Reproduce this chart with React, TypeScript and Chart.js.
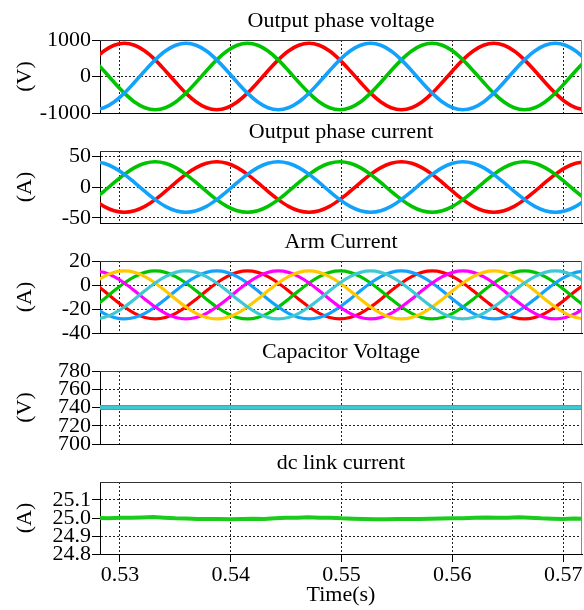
import { useEffect, useRef } from 'react';
import { Chart, registerables } from 'chart.js';

Chart.register(...registerables);

const FONT = "'Liberation Serif', 'Times New Roman', serif";
const X_MIN = 0.5282;
const X_MAX = 0.5717;
const xTicks = [0.53, 0.54, 0.55, 0.56, 0.57];

// sample instants (s)
const sampleTime = [
  0.52762, 0.52855, 0.52947, 0.5304, 0.53132, 0.53225, 0.53318, 0.5341, 0.53503, 0.53595,
  0.53688, 0.53781, 0.53873, 0.53966, 0.54058, 0.54151, 0.54244, 0.54336, 0.54429, 0.54521,
  0.54614, 0.54707, 0.54799, 0.54892, 0.54984, 0.55077, 0.5517, 0.55262, 0.55355, 0.55447,
  0.5554, 0.55633, 0.55725, 0.55818, 0.5591, 0.56003, 0.56095, 0.56188, 0.56281, 0.56373,
  0.56466, 0.56558, 0.56651, 0.56744, 0.56836, 0.56929, 0.57021, 0.57114, 0.57207,
];

// Output phase voltage (V)
const vRed = [
  455, 697, 855, 910, 855, 697, 455, 158, -158, -455, -697, -855, -910, -855, -697, -455, -158, 158,
  455, 697, 855, 910, 855, 697, 455, 158, -158, -455, -697, -855, -910, -855, -697, -455, -158, 158,
  455, 697, 855, 910, 855, 697, 455, 158, -158, -455, -697, -855, -910,
];
const vBlue = [
  -910, -855, -697, -455, -158, 158, 455, 697, 855, 910, 855, 697, 455, 158, -158, -455, -697, -855,
  -910, -855, -697, -455, -158, 158, 455, 697, 855, 910, 855, 697, 455, 158, -158, -455, -697, -855,
  -910, -855, -697, -455, -158, 158, 455, 697, 855, 910, 855, 697, 455,
];
const vGreen = [
  455, 158, -158, -455, -697, -855, -910, -855, -697, -455, -158, 158, 455, 697, 855, 910, 855, 697,
  455, 158, -158, -455, -697, -855, -910, -855, -697, -455, -158, 158, 455, 697, 855, 910, 855, 697,
  455, 158, -158, -455, -697, -855, -910, -855, -697, -455, -158, 158, 455,
];

// Output phase current (A)
const iRed = [
  -20.5, -31.4, -38.5, -41, -38.5, -31.4, -20.5, -7.1, 7.1, 20.5, 31.4, 38.5, 41, 38.5, 31.4, 20.5, 7.1, -7.1,
  -20.5, -31.4, -38.5, -41, -38.5, -31.4, -20.5, -7.1, 7.1, 20.5, 31.4, 38.5, 41, 38.5, 31.4, 20.5, 7.1, -7.1,
  -20.5, -31.4, -38.5, -41, -38.5, -31.4, -20.5, -7.1, 7.1, 20.5, 31.4, 38.5, 41,
];
const iBlue = [
  41, 38.5, 31.4, 20.5, 7.1, -7.1, -20.5, -31.4, -38.5, -41, -38.5, -31.4, -20.5, -7.1, 7.1, 20.5, 31.4, 38.5,
  41, 38.5, 31.4, 20.5, 7.1, -7.1, -20.5, -31.4, -38.5, -41, -38.5, -31.4, -20.5, -7.1, 7.1, 20.5, 31.4, 38.5,
  41, 38.5, 31.4, 20.5, 7.1, -7.1, -20.5, -31.4, -38.5, -41, -38.5, -31.4, -20.5,
];
const iGreen = [
  -20.5, -7.1, 7.1, 20.5, 31.4, 38.5, 41, 38.5, 31.4, 20.5, 7.1, -7.1, -20.5, -31.4, -38.5, -41, -38.5, -31.4,
  -20.5, -7.1, 7.1, 20.5, 31.4, 38.5, 41, 38.5, 31.4, 20.5, 7.1, -7.1, -20.5, -31.4, -38.5, -41, -38.5, -31.4,
  -20.5, -7.1, 7.1, 20.5, 31.4, 38.5, 41, 38.5, 31.4, 20.5, 7.1, -7.1, -20.5,
];

// Arm currents (A)
const armRed = [
  1.7, -4.8, -11.8, -18.3, -23.6, -27.1, -28.3, -27.1, -23.6, -18.3, -11.8, -4.8, 1.7, 7.0, 10.5, 11.7, 10.5, 7.0,
  1.7, -4.8, -11.8, -18.3, -23.6, -27.1, -28.3, -27.1, -23.6, -18.3, -11.8, -4.8, 1.7, 7.0, 10.5, 11.7, 10.5, 7.0,
  1.7, -4.8, -11.8, -18.3, -23.6, -27.1, -28.3, -27.1, -23.6, -18.3, -11.8, -4.8, 1.7,
];
const armGreen = [
  -18.3, -11.8, -4.8, 1.7, 7.0, 10.5, 11.7, 10.5, 7.0, 1.7, -4.8, -11.8, -18.3, -23.6, -27.1, -28.3, -27.1, -23.6,
  -18.3, -11.8, -4.8, 1.7, 7.0, 10.5, 11.7, 10.5, 7.0, 1.7, -4.8, -11.8, -18.3, -23.6, -27.1, -28.3, -27.1, -23.6,
  -18.3, -11.8, -4.8, 1.7, 7.0, 10.5, 11.7, 10.5, 7.0, 1.7, -4.8, -11.8, -18.3,
];
const armBlue = [
  -18.3, -23.6, -27.1, -28.3, -27.1, -23.6, -18.3, -11.8, -4.8, 1.7, 7.0, 10.5, 11.7, 10.5, 7.0, 1.7, -4.8, -11.8,
  -18.3, -23.6, -27.1, -28.3, -27.1, -23.6, -18.3, -11.8, -4.8, 1.7, 7.0, 10.5, 11.7, 10.5, 7.0, 1.7, -4.8, -11.8,
  -18.3, -23.6, -27.1, -28.3, -27.1, -23.6, -18.3, -11.8, -4.8, 1.7, 7.0, 10.5, 11.7,
];
const armMagenta = [
  11.7, 10.5, 7.0, 1.7, -4.8, -11.8, -18.3, -23.6, -27.1, -28.3, -27.1, -23.6, -18.3, -11.8, -4.8, 1.7, 7.0, 10.5,
  11.7, 10.5, 7.0, 1.7, -4.8, -11.8, -18.3, -23.6, -27.1, -28.3, -27.1, -23.6, -18.3, -11.8, -4.8, 1.7, 7.0, 10.5,
  11.7, 10.5, 7.0, 1.7, -4.8, -11.8, -18.3, -23.6, -27.1, -28.3, -27.1, -23.6, -18.3,
];
const armYellow = [
  1.7, 7.0, 10.5, 11.7, 10.5, 7.0, 1.7, -4.8, -11.8, -18.3, -23.6, -27.1, -28.3, -27.1, -23.6, -18.3, -11.8, -4.8,
  1.7, 7.0, 10.5, 11.7, 10.5, 7.0, 1.7, -4.8, -11.8, -18.3, -23.6, -27.1, -28.3, -27.1, -23.6, -18.3, -11.8, -4.8,
  1.7, 7.0, 10.5, 11.7, 10.5, 7.0, 1.7, -4.8, -11.8, -18.3, -23.6, -27.1, -28.3,
];
const armCyan = [
  -28.3, -27.1, -23.6, -18.3, -11.8, -4.8, 1.7, 7.0, 10.5, 11.7, 10.5, 7.0, 1.7, -4.8, -11.8, -18.3, -23.6, -27.1,
  -28.3, -27.1, -23.6, -18.3, -11.8, -4.8, 1.7, 7.0, 10.5, 11.7, 10.5, 7.0, 1.7, -4.8, -11.8, -18.3, -23.6, -27.1,
  -28.3, -27.1, -23.6, -18.3, -11.8, -4.8, 1.7, 7.0, 10.5, 11.7, 10.5, 7.0, 1.7,
];

// Capacitor voltage (V)
const capTime = [0.528, 0.572];
const capVoltage = [740, 740];

// dc link current (A)
const dcTime = [
  0.528, 0.529, 0.53, 0.531, 0.532, 0.533, 0.534, 0.535, 0.536, 0.537, 0.538, 0.539, 0.54, 0.541, 0.542,
  0.543, 0.544, 0.545, 0.546, 0.547, 0.548, 0.549, 0.55, 0.551, 0.552, 0.553, 0.554, 0.555, 0.556, 0.557,
  0.558, 0.559, 0.56, 0.561, 0.562, 0.563, 0.564, 0.565, 0.566, 0.567, 0.568, 0.569, 0.57, 0.571, 0.572,
];
const dcCurrent = [
  25.0, 24.999, 25.002, 25.001, 25.003, 25.005, 25.001, 24.998, 24.997, 24.995, 24.994, 24.995, 24.993, 24.994, 24.996,
  24.995, 24.998, 25.001, 25.002, 25.004, 25.001, 25.002, 24.998, 24.996, 24.994, 24.993, 24.993, 24.994, 24.994, 24.995,
  24.996, 24.997, 24.998, 24.999, 25.001, 25.003, 25.001, 25.002, 25.004, 25.002, 24.998, 24.996, 24.995, 24.997, 24.996,
];

// y ticks per panel
const vTicks = [-1000, 0, 1000];
const iTicks = [-50, 0, 50];
const armTicks = [-40, -20, 0, 20];
const capTicks = [700, 720, 740, 760, 780];
const dcTicks = [24.8, 24.9, 25.0, 25.1];

const RED = '#ff0000';
const GREEN = '#00c400';
const BLUE = '#13a2fb';
const MAGENTA = '#ff00ff';
const YELLOW = '#ffc800';
const CYAN = '#40c8d2';

type Series = { t: number[]; v: number[]; color: string; width: number; smooth: boolean };
type PanelCfg = {
  title: string;
  unit: string;
  yMin: number;
  yMax: number;
  yTicks: number[];
  yFmt: (v: number) => string;
  series: Series[]; // first entry is drawn on top
  plotTop: number;
  plotBottom: number;
  bottomExtra: number;
  showX: boolean;
};

const TITLE_SPACE = 40;

const boxPlugin = {
  id: 'boxPlugin',
  afterDraw(chart: any) {
    const { ctx, chartArea } = chart;
    const { left, top, right, bottom } = chartArea;
    ctx.save();
    ctx.lineWidth = 1;
    ctx.strokeStyle = '#333';
    ctx.beginPath();
    ctx.moveTo(left, Math.round(top) + 0.5);
    ctx.lineTo(right, Math.round(top) + 0.5);
    ctx.stroke();
    ctx.strokeStyle = '#8a8a8a';
    ctx.beginPath();
    ctx.moveTo(Math.round(right) - 0.5, top);
    ctx.lineTo(Math.round(right) - 0.5, bottom);
    ctx.stroke();
    ctx.restore();
  },
};

function Panel({ cfg }: { cfg: PanelCfg }) {
  const ref = useRef<HTMLCanvasElement | null>(null);
  const canvasTop = cfg.plotTop - TITLE_SPACE;
  const height = cfg.plotBottom - canvasTop + cfg.bottomExtra;

  useEffect(() => {
    if (!ref.current) return;
    const chart = new Chart(ref.current, {
      type: 'line',
      data: {
        datasets: cfg.series.map((s) => ({
          data: s.t.map((t, i) => ({ x: t, y: s.v[i] })),
          borderColor: s.color,
          backgroundColor: s.color,
          borderWidth: s.width,
          pointRadius: 0,
          fill: false,
          cubicInterpolationMode: s.smooth ? 'monotone' : 'default',
          tension: 0,
          clip: 0,
        })),
      } as any,
      options: {
        responsive: false,
        animation: false,
        devicePixelRatio: 1,
        events: [],
        layout: { padding: { left: 0, right: 2, top: 0, bottom: 0 }, autoPadding: false },
        plugins: {
          legend: { display: false },
          tooltip: { enabled: false },
          title: {
            display: true,
            text: cfg.title,
            color: '#000',
            fullSize: false,
            font: { family: FONT, size: 22, weight: 'normal', lineHeight: 1.2 },
            padding: { top: 8.3, bottom: 5.3 },
          },
        },
        scales: {
          x: {
            type: 'linear',
            min: X_MIN,
            max: X_MAX,
            afterBuildTicks: (s: any) => {
              s.ticks = xTicks.map((v) => ({ value: v }));
            },
            afterFit: (s: any) => {
              s.height = cfg.bottomExtra;
            },
            ticks: {
              display: cfg.showX,
              autoSkip: false,
              maxRotation: 0,
              padding: 0,
              color: '#000',
              font: { family: FONT, size: 22 },
              callback: (v: any) => Number(v).toFixed(2),
            },
            grid: {
              color: '#222',
              lineWidth: 1,
              drawTicks: cfg.showX,
              tickLength: 8,
              tickColor: '#000',
            },
            border: { display: true, color: '#000', width: 1, dash: [2, 2] },
            title: {
              display: cfg.showX,
              text: 'Time(s)',
              color: '#000',
              font: { family: FONT, size: 22, lineHeight: 1.2 },
              padding: { top: 0, bottom: 1.8 },
            },
          },
          y: {
            type: 'linear',
            min: cfg.yMin,
            max: cfg.yMax,
            afterBuildTicks: (s: any) => {
              s.ticks = cfg.yTicks.map((v) => ({ value: v }));
            },
            afterFit: (s: any) => {
              s.width = 100;
            },
            ticks: {
              autoSkip: false,
              padding: 1,
              color: '#000',
              font: { family: FONT, size: 22 },
              callback: (v: any) => cfg.yFmt(Number(v)),
            },
            grid: {
              color: '#222',
              lineWidth: 1,
              drawTicks: true,
              tickLength: 8,
              tickColor: '#000',
            },
            border: { display: true, color: '#000', width: 1, dash: [2, 2] },
            title: {
              display: true,
              text: cfg.unit,
              color: '#000',
              font: { family: FONT, size: 22, lineHeight: 1.2 },
              padding: { top: 12, bottom: 0 },
            },
          },
        },
      } as any,
      plugins: [boxPlugin],
    });
    return () => chart.destroy();
  }, [cfg]);

  return (
    <canvas
      ref={ref}
      width={584}
      height={height}
      style={{ position: 'absolute', left: 0, top: canvasTop, width: 584, height }}
    />
  );
}

const intFmt = (v: number) => String(Math.round(v));
const oneDec = (v: number) => v.toFixed(1);

const panels: PanelCfg[] = [
  {
    title: 'Output phase voltage',
    unit: '(V)',
    yMin: -1000,
    yMax: 1000,
    yTicks: vTicks,
    yFmt: intFmt,
    series: [
      { t: sampleTime, v: vBlue, color: BLUE, width: 3.6, smooth: true },
      { t: sampleTime, v: vGreen, color: GREEN, width: 3.6, smooth: true },
      { t: sampleTime, v: vRed, color: RED, width: 3.6, smooth: true },
    ],
    plotTop: 40,
    plotBottom: 113,
    bottomExtra: 16,
    showX: false,
  },
  {
    title: 'Output phase current',
    unit: '(A)',
    yMin: -58.5,
    yMax: 58.5,
    yTicks: iTicks,
    yFmt: intFmt,
    series: [
      { t: sampleTime, v: iBlue, color: BLUE, width: 3.6, smooth: true },
      { t: sampleTime, v: iGreen, color: GREEN, width: 3.6, smooth: true },
      { t: sampleTime, v: iRed, color: RED, width: 3.6, smooth: true },
    ],
    plotTop: 151,
    plotBottom: 223,
    bottomExtra: 16,
    showX: false,
  },
  {
    title: 'Arm Current',
    unit: '(A)',
    yMin: -40,
    yMax: 20,
    yTicks: armTicks,
    yFmt: intFmt,
    series: [
      { t: sampleTime, v: armCyan, color: CYAN, width: 3.2, smooth: true },
      { t: sampleTime, v: armYellow, color: YELLOW, width: 3.2, smooth: true },
      { t: sampleTime, v: armMagenta, color: MAGENTA, width: 3.2, smooth: true },
      { t: sampleTime, v: armBlue, color: BLUE, width: 3.2, smooth: true },
      { t: sampleTime, v: armGreen, color: GREEN, width: 3.2, smooth: true },
      { t: sampleTime, v: armRed, color: RED, width: 3.2, smooth: true },
    ],
    plotTop: 261,
    plotBottom: 333,
    bottomExtra: 16,
    showX: false,
  },
  {
    title: 'Capacitor Voltage',
    unit: '(V)',
    yMin: 700,
    yMax: 780,
    yTicks: capTicks,
    yFmt: intFmt,
    series: [
      { t: capTime, v: capVoltage, color: CYAN, width: 3, smooth: false },
      { t: capTime, v: capVoltage, color: '#4a9cc0', width: 5, smooth: false },
    ],
    plotTop: 371,
    plotBottom: 444,
    bottomExtra: 16,
    showX: false,
  },
  {
    title: 'dc link current',
    unit: '(A)',
    yMin: 24.8,
    yMax: 25.2,
    yTicks: dcTicks,
    yFmt: oneDec,
    series: [{ t: dcTime, v: dcCurrent, color: '#1ccc1c', width: 4, smooth: false }],
    plotTop: 482,
    plotBottom: 554,
    bottomExtra: 56,
    showX: true,
  },
];

export default function App() {
  return (
    <div style={{ position: 'absolute', left: 0, top: 0, width: 584, height: 610, background: '#fff' }}>
      {panels.map((p, i) => (
        <Panel key={i} cfg={p} />
      ))}
    </div>
  );
}
